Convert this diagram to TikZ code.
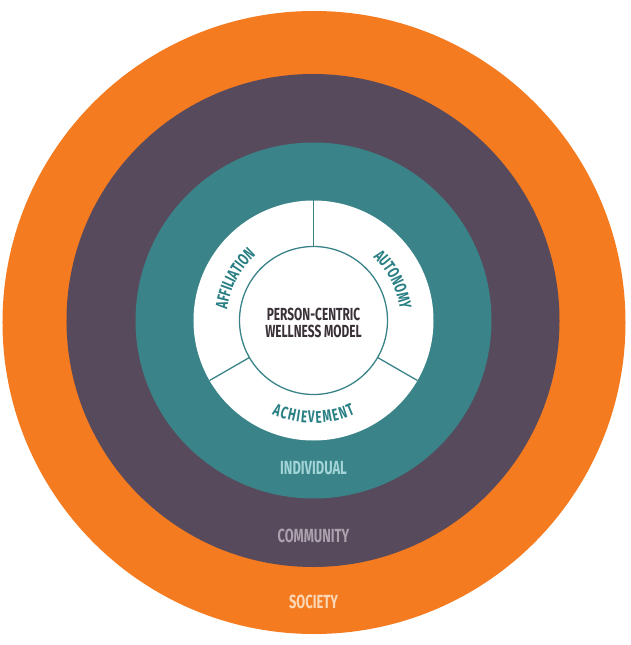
\documentclass[tikz,border=0pt]{standalone}
\usepackage{fontspec}
\newfontfamily\din[FakeStretch=0.68]{Fira Sans}
\usetikzlibrary{decorations.text}
\definecolor{orng}{HTML}{F47B20}
\definecolor{plum}{HTML}{574A5C}
\definecolor{tealr}{HTML}{3A8489}
\definecolor{tealtxt}{HTML}{2A7F84}
\definecolor{darktxt}{HTML}{3A3138}
\definecolor{indtxt}{HTML}{A3D5D8}
\definecolor{comtxt}{HTML}{ABA2AE}
\definecolor{soctxt}{HTML}{FBD7B5}
\tikzset{
  ring/.style={circle, inner sep=0pt, outer sep=0pt, draw=none},
  divider/.style={draw=tealr, line width=1.3pt},
  lbl/.style={inner sep=0pt, font=\din\bfseries\fontsize{19}{19}\selectfont},
  arclbl/.style={decorate, decoration={text along path, text align=center, text color=tealtxt}},
  arcfit/.style={decorate, decoration={text along path, text align=fit to path, text color=tealtxt}}
}
\begin{document}
\begin{tikzpicture}[x=1pt,y=1pt]
\useasboundingbox (-313.5,-324.5) rectangle (316.5,320.5);
\node[ring, fill=orng, minimum size=623pt] (society) at (0.5,-2) {};
\node[ring, fill=plum, minimum size=493pt] (community) at (-0.5,0) {};
\node[ring, fill=tealr, minimum size=356pt] (individual) at (0,0) {};
\node[ring, fill=white, minimum size=240pt] (pillars) at (0,0) {};
\node[ring, fill=white, draw=tealr, line width=1.3pt, minimum size=148pt] (core) at (0,0) {};
\draw[divider] (core.90) -- (pillars.90);
\draw[divider] (core.210) -- (pillars.210);
\draw[divider] (core.330) -- (pillars.330);
\node[align=center, text=darktxt, inner sep=0pt, font=\din\bfseries\fontsize{17.5}{17}\selectfont] (model) at (0,-2) {PERSON-CENTRIC\\WELLNESS MODEL};
\path[arclbl, decoration={text={|\din\bfseries\fontsize{17}{17}\selectfont|AFFILIATION}}] (182:87) arc[start angle=182, end angle=122, radius=87];
\path[arclbl, decoration={text={|\din\bfseries\fontsize{17}{17}\selectfont|AUTONOMY}}] (57:87) arc[start angle=57, end angle=-3, radius=87];
\path[arcfit, decoration={text={|\din\bfseries\fontsize{17}{17}\selectfont|ACHIEVEMENT}}] (246:102.5) arc[start angle=246, end angle=294, radius=102.5];
\node[lbl, text=indtxt] (indlbl) at (0,-147.5) {INDIVIDUAL};
\node[lbl, text=comtxt] (comlbl) at (0,-215.5) {COMMUNITY};
\node[lbl, text=soctxt] (soclbl) at (0,-281.5) {SOCIETY};
\end{tikzpicture}
\end{document}
